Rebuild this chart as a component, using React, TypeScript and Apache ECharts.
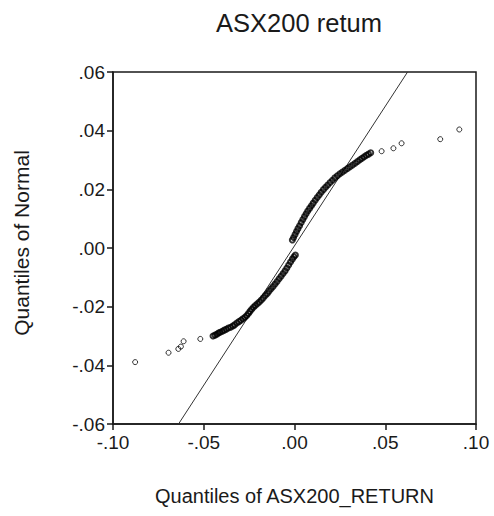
import React, { useEffect, useRef } from "react";
import * as echarts from "echarts";

const titleText = "ASX200 retum";
const xAxisTitle = "Quantiles of ASX200_RETURN";
const yAxisTitle = "Quantiles of Normal";

// [quantile of ASX200_RETURN, quantile of Normal]
const lowerTail: number[][] = [
  [-0.0878, -0.0389], [-0.0694, -0.0357], [-0.0640, -0.0344], [-0.0626, -0.0336],
  [-0.0611, -0.0318], [-0.0519, -0.0310],
];
const lowerBand: number[][] = [
  [-0.0449, -0.0300], [-0.0438, -0.0297], [-0.0428, -0.0294], [-0.0419, -0.0290],
  [-0.0410, -0.0287], [-0.0398, -0.0284], [-0.0387, -0.0280], [-0.0376, -0.0277],
  [-0.0365, -0.0273], [-0.0352, -0.0270], [-0.0340, -0.0266], [-0.0330, -0.0262],
  [-0.0318, -0.0256], [-0.0306, -0.0251], [-0.0295, -0.0246], [-0.0284, -0.0241],
  [-0.0273, -0.0236], [-0.0263, -0.0230], [-0.0254, -0.0223], [-0.0245, -0.0216],
  [-0.0236, -0.0209], [-0.0226, -0.0202], [-0.0216, -0.0196], [-0.0205, -0.0190],
  [-0.0194, -0.0184], [-0.0183, -0.0177], [-0.0172, -0.0170], [-0.0161, -0.0162],
  [-0.0150, -0.0155], [-0.0140, -0.0147], [-0.0129, -0.0139], [-0.0118, -0.0131],
  [-0.0107, -0.0123], [-0.0096, -0.0114], [-0.0085, -0.0105], [-0.0074, -0.0096],
  [-0.0063, -0.0087], [-0.0052, -0.0078], [-0.0042, -0.0068], [-0.0032, -0.0058],
  [-0.0022, -0.0048], [-0.0012, -0.0038], [-0.0003, -0.0030], [0.0005, -0.0024],
];
const upperBand: number[][] = [
  [-0.0012, 0.0027], [-0.0005, 0.0036], [0.0003, 0.0046], [0.0011, 0.0056],
  [0.0019, 0.0066], [0.0028, 0.0076], [0.0037, 0.0087], [0.0046, 0.0097],
  [0.0055, 0.0107], [0.0064, 0.0117], [0.0073, 0.0126], [0.0083, 0.0135],
  [0.0093, 0.0144], [0.0103, 0.0153], [0.0114, 0.0163], [0.0125, 0.0172],
  [0.0136, 0.0181], [0.0147, 0.0190], [0.0159, 0.0199], [0.0171, 0.0207],
  [0.0183, 0.0215], [0.0196, 0.0223], [0.0209, 0.0231], [0.0222, 0.0239],
  [0.0236, 0.0246], [0.0250, 0.0253], [0.0264, 0.0259], [0.0278, 0.0265],
  [0.0292, 0.0271], [0.0306, 0.0277], [0.0320, 0.0283], [0.0334, 0.0289],
  [0.0347, 0.0295], [0.0360, 0.0301], [0.0372, 0.0306], [0.0384, 0.0311],
  [0.0396, 0.0316], [0.0408, 0.0320], [0.0420, 0.0325],
];
const upperTail: number[][] = [
  [0.0480, 0.0330], [0.0545, 0.0340], [0.0590, 0.0357], [0.0803, 0.0371],
  [0.0908, 0.0404],
];
const referenceLine: number[][] = [
  [-0.0639, -0.06], [0.0623, 0.06],
];

const xTicks = { min: -0.1, max: 0.1, interval: 0.05 };
const yTicks = { min: -0.06, max: 0.06, interval: 0.02 };

const fmt = (v: number) => {
  const s = Math.abs(v).toFixed(2).replace(/^0/, "");
  return (v < -1e-9 ? "-" : "") + s;
};

export default function App() {
  const ref = useRef<HTMLDivElement>(null);
  useEffect(() => {
    if (!ref.current) return;
    const chart = echarts.init(ref.current, undefined, { renderer: "svg" });
    const font = "Arial, 'Liberation Sans', sans-serif";
    const ink = "#1a1a1a";
    chart.setOption({
      animation: false,
      backgroundColor: "#ffffff",
      title: {
        text: titleText,
        left: 294,
        top: 5,
        textAlign: "center",
        textStyle: { fontFamily: font, fontSize: 25.5, fontWeight: "normal", color: ink },
      },
      grid: {
        left: 113,
        right: 18,
        top: 72,
        bottom: 92,
        show: true,
        borderColor: ink,
        borderWidth: 1.5,
        backgroundColor: "#fff",
      },
      xAxis: {
        type: "value",
        ...xTicks,
        name: xAxisTitle,
        nameLocation: "middle",
        nameGap: 62,
        nameTextStyle: { fontFamily: font, fontSize: 20, color: ink },
        axisLine: { show: true, onZero: false, lineStyle: { color: ink, width: 1.5 } },
        axisTick: { show: true, inside: false, length: 6, lineStyle: { color: ink, width: 1.5 } },
        axisLabel: { formatter: fmt, fontFamily: font, fontSize: 19, color: ink, margin: 9 },
        splitLine: { show: false },
      },
      yAxis: {
        type: "value",
        ...yTicks,
        axisLine: { show: true, onZero: false, lineStyle: { color: ink, width: 1.5 } },
        axisTick: { show: true, inside: false, length: 6, lineStyle: { color: ink, width: 1.5 } },
        axisLabel: { formatter: fmt, fontFamily: font, fontSize: 19, color: ink, margin: 8 },
        splitLine: { show: false },
      },
      graphic: [
        {
          type: "text",
          x: 21,
          y: 243,
          rotation: Math.PI / 2,
          style: {
            text: yAxisTitle,
            fontFamily: font,
            fontSize: 21,
            fill: ink,
            align: "center",
            verticalAlign: "middle",
          },
        },
      ],
      series: [
        {
          type: "line",
          data: referenceLine,
          symbol: "none",
          lineStyle: { color: "#333", width: 1 },
          z: 1,
        },
        {
          type: "scatter",
          data: [...lowerBand, ...upperBand],
          symbol: "circle",
          symbolSize: 5,
          itemStyle: { color: "rgba(0,0,0,0)", borderColor: "#000", borderWidth: 2 },
          z: 2,
        },
        {
          type: "scatter",
          data: [...lowerTail, ...upperTail],
          symbol: "circle",
          symbolSize: 5,
          itemStyle: { color: "rgba(0,0,0,0)", borderColor: "#000", borderWidth: 1 },
          z: 2,
        },
      ],
    });
    return () => chart.dispose();
  }, []);
  return (
    <div
      ref={ref}
      style={{ position: "fixed", left: 0, top: 0, width: 494, height: 516, background: "#fff" }}
    />
  );
}
